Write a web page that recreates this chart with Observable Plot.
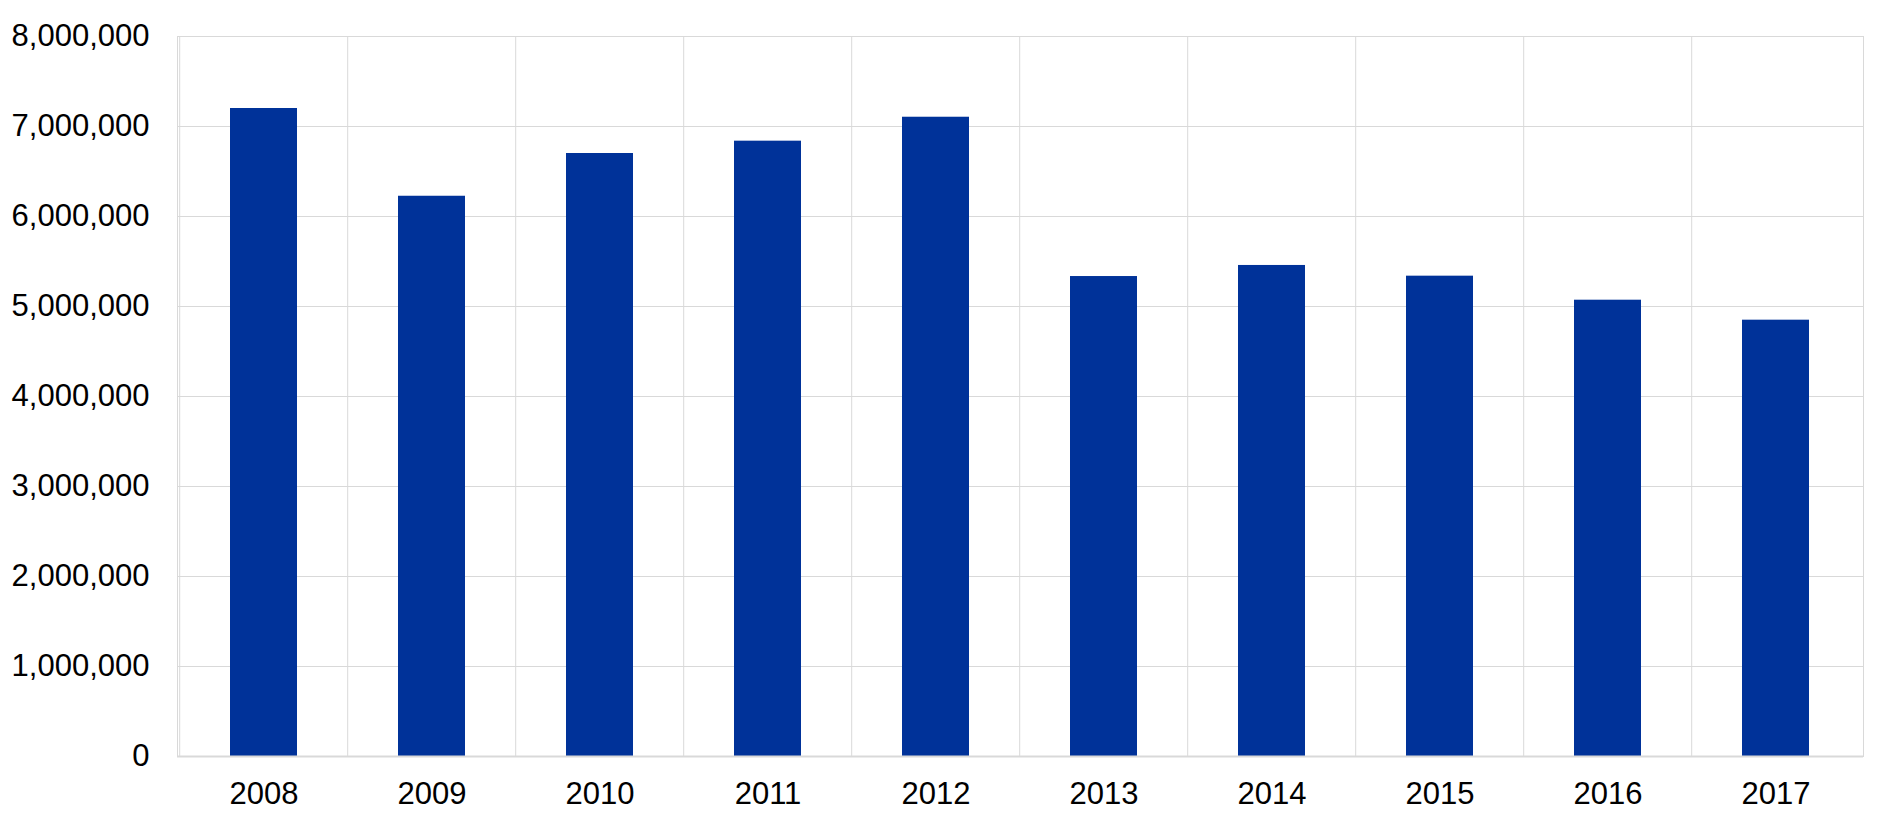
<!DOCTYPE html>
<html>
<head>
<meta charset="utf-8">
<script src="https://cdn.jsdelivr.net/npm/d3@7"></script>
<script src="https://cdn.jsdelivr.net/npm/@observablehq/plot@0.6"></script>
<style>
  html, body { margin: 0; padding: 0; background: #fff; }
  #chart svg { display: block; }
</style>
</head>
<body>
<div id="chart"></div>
<script>
const years = ["2008","2009","2010","2011","2012","2013","2014","2015","2016","2017"];
const values = [7200000, 6225000, 6700000, 6837000, 7103000, 5333000, 5456000, 5337000, 5070000, 4848000];
const yTicks = [0,1000000,2000000,3000000,4000000,5000000,6000000,7000000,8000000];

const data = years.map((y, i) => ({year: y, value: values[i]}));

const W = 1890, H = 823;
const ml = 177, mr = 27, mt = 36, mb = 67;
const step = (W - ml - mr) / years.length;
const grid = "#d9d9d9";

const chart = Plot.plot({
  width: W,
  height: H,
  marginLeft: ml,
  marginRight: mr,
  marginTop: mt,
  marginBottom: mb,
  style: {fontFamily: "'Liberation Sans', Arial, sans-serif", fontSize: "31px", color: "#000", background: "#fff"},
  x: {domain: years, paddingInner: 0.6, paddingOuter: 0.3, label: null},
  y: {domain: [0, 8000000], label: null},
  marks: [
    Plot.gridY(yTicks, {stroke: grid, strokeOpacity: 1}),
    Plot.ruleX(years, {x: d => d, stroke: grid, strokeOpacity: 1, dx: -step / 2}),
    Plot.frame({stroke: grid, strokeOpacity: 1}),
    Plot.barY(data, {x: "year", y: "value", fill: "#003299"}),
    Plot.ruleY([0], {stroke: grid, strokeWidth: 2}),
    Plot.axisY(yTicks, {tickFormat: d3.format(","), tickSize: 0, tickPadding: 28, fontSize: 31, label: null}),
    Plot.axisX({tickSize: 0, tickPadding: 25, fontSize: 31, label: null})
  ]
});
document.getElementById("chart").appendChild(chart);
</script>
</body>
</html>
